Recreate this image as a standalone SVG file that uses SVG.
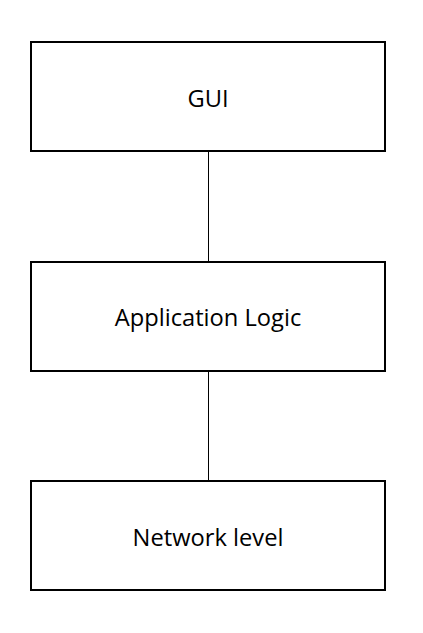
<svg xmlns="http://www.w3.org/2000/svg" width="423" height="633" viewBox="0 0 423 633">
<style>
.box{fill:#fff;stroke:#000;stroke-width:2}
.lbl{font-family:"Open Sans","Liberation Sans",Arial,sans-serif;font-size:23.7px;fill:#000;text-anchor:middle}
.conn{stroke:#000;stroke-width:1;fill:none}
</style>
<rect width="423" height="633" fill="#fff"/>
<g id="connectors">
<line class="conn" x1="208.5" y1="151" x2="208.5" y2="262"/>
<line class="conn" x1="208.5" y1="371" x2="208.5" y2="481"/>
</g>
<g id="gui">
<rect class="box" x="31" y="42" width="354" height="109"/>
<text class="lbl" x="208" y="106.5">GUI</text>
</g>
<g id="app">
<rect class="box" x="31" y="262" width="354" height="109"/>
<text class="lbl" x="208" y="326">Application Logic</text>
</g>
<g id="net">
<rect class="box" x="31" y="481" width="354" height="109"/>
<text class="lbl" x="208" y="545.5">Network level</text>
</g>
</svg>
